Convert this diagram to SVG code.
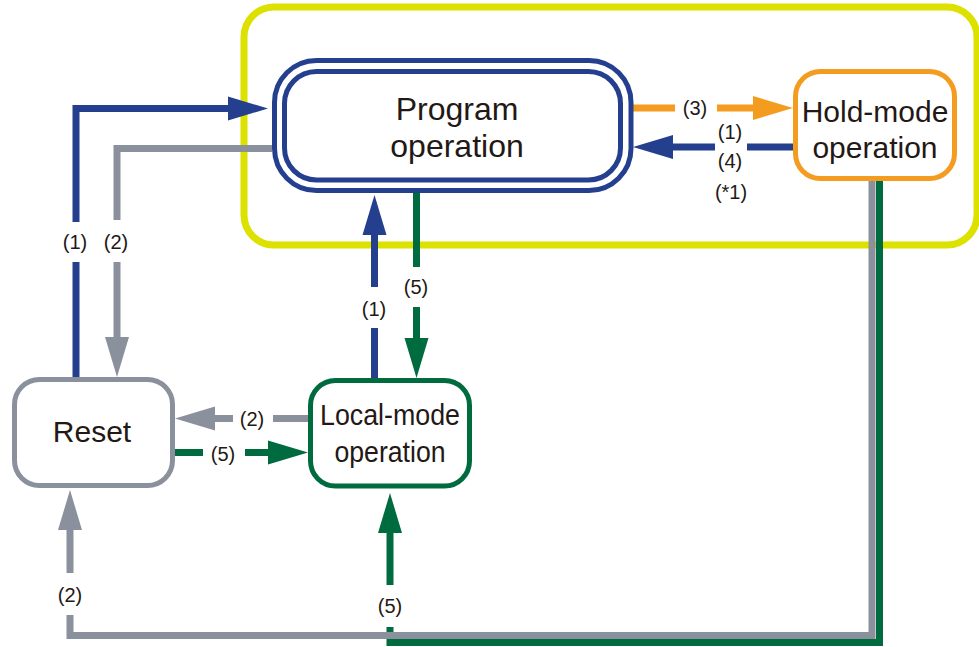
<svg xmlns="http://www.w3.org/2000/svg" width="979" height="647" viewBox="0 0 979 647">
<style>
  .node-text{font-family:"Liberation Sans",Arial,sans-serif;fill:#231815;text-anchor:middle}
  .lbl{font-family:"Liberation Sans",Arial,sans-serif;font-size:20px;fill:#231815;text-anchor:middle}
  .c{fill:none;stroke-width:7;stroke-linejoin:miter;stroke-linecap:butt}
  .blue{stroke:#253f8f}
  .gray{stroke:#8a909c}
  .green{stroke:#006b3f}
  .orange{stroke:#f39c1f}
</style>
<defs>
  <marker id="mBlue" markerUnits="userSpaceOnUse" markerWidth="40" markerHeight="24" refX="0" refY="12" orient="auto" overflow="visible"><path d="M0,0 L40,12 L0,24 Z" fill="#253f8f"/></marker>
  <marker id="mGray" markerUnits="userSpaceOnUse" markerWidth="40" markerHeight="24" refX="0" refY="12" orient="auto" overflow="visible"><path d="M0,0 L40,12 L0,24 Z" fill="#8a909c"/></marker>
  <marker id="mGreen" markerUnits="userSpaceOnUse" markerWidth="40" markerHeight="24" refX="0" refY="12" orient="auto" overflow="visible"><path d="M0,0 L40,12 L0,24 Z" fill="#006b3f"/></marker>
  <marker id="mOrange" markerUnits="userSpaceOnUse" markerWidth="40" markerHeight="24" refX="0" refY="12" orient="auto" overflow="visible"><path d="M0,0 L40,12 L0,24 Z" fill="#f39c1f"/></marker>
</defs>
<rect width="979" height="647" fill="#ffffff"/>
<g id="frame">
  <rect x="244" y="7" width="733" height="238" rx="30" ry="30" fill="none" stroke="#dce100" stroke-width="7"/>
</g>
<g id="connectors">
  <path class="c green" d="M879.5 181 V642.5 H390 V627"/>
  <path class="c green" d="M390 585 V533" marker-end="url(#mGreen)"/>
  <path class="c gray" d="M872 181 V635.5 H70 V615"/>
  <path class="c gray" d="M70 573 V530" marker-end="url(#mGray)"/>
  <path class="c blue" d="M76 380 V262"/>
  <path class="c blue" d="M76 222 V108.5 H228" marker-end="url(#mBlue)"/>
  <path class="c gray" d="M272 148.5 H117 V220"/>
  <path class="c gray" d="M117 262 V337" marker-end="url(#mGray)"/>
  <path class="c orange" d="M633 108 H675"/>
  <path class="c orange" d="M717 108 H753" marker-end="url(#mOrange)"/>
  <path class="c blue" d="M793 147 H747"/>
  <path class="c blue" d="M715 147 H673" marker-end="url(#mBlue)"/>
  <path class="c blue" d="M374.5 378 V328"/>
  <path class="c blue" d="M374.5 287 V235" marker-end="url(#mBlue)"/>
  <path class="c green" d="M416.5 193 V267"/>
  <path class="c green" d="M416.5 307 V338" marker-end="url(#mGreen)"/>
  <path class="c gray" d="M308 418.5 H273"/>
  <path class="c gray" d="M233 418.5 H215" marker-end="url(#mGray)"/>
  <path class="c green" d="M175 452.5 H203"/>
  <path class="c green" d="M245 452.5 H268" marker-end="url(#mGreen)"/>
  <text class="lbl" x="75" y="249">(1)</text>
  <text class="lbl" x="116" y="249">(2)</text>
  <text class="lbl" x="695" y="115">(3)</text>
  <text class="lbl" x="730" y="139">(1)</text>
  <text class="lbl" x="730" y="168">(4)</text>
  <text class="lbl" x="731" y="199">(*1)</text>
  <text class="lbl" x="374" y="316">(1)</text>
  <text class="lbl" x="416" y="294">(5)</text>
  <text class="lbl" x="252" y="426">(2)</text>
  <text class="lbl" x="223" y="461">(5)</text>
  <text class="lbl" x="70" y="602">(2)</text>
  <text class="lbl" x="390" y="613">(5)</text>
</g>
<g id="program">
  <rect x="274.5" y="60.5" width="356.5" height="130" rx="42" ry="42" fill="#ffffff" stroke="#253f8f" stroke-width="5"/>
  <rect x="284.5" y="71.5" width="336" height="108.5" rx="32" ry="32" fill="#ffffff" stroke="#253f8f" stroke-width="5"/>
  <text class="node-text" x="457" y="120" font-size="32">Program</text>
  <text class="node-text" x="457" y="157" font-size="32">operation</text>
</g>
<g id="hold">
  <rect x="795.5" y="71.5" width="159" height="107" rx="25" ry="25" fill="#ffffff" stroke="#f39c1f" stroke-width="5"/>
  <text class="node-text" x="875" y="122" font-size="30">Hold-mode</text>
  <text class="node-text" x="875" y="158" font-size="30">operation</text>
</g>
<g id="reset">
  <rect x="14.5" y="379.5" width="158" height="106" rx="25" ry="25" fill="#ffffff" stroke="#8a909c" stroke-width="5"/>
  <text class="node-text" x="92" y="442" font-size="30">Reset</text>
</g>
<g id="local">
  <rect x="310.5" y="380.5" width="159" height="105.5" rx="25" ry="25" fill="#ffffff" stroke="#006b3f" stroke-width="5"/>
  <text class="node-text" x="390" y="425" font-size="30" textLength="140" lengthAdjust="spacingAndGlyphs">Local-mode</text>
  <text class="node-text" x="390" y="462" font-size="30" textLength="111" lengthAdjust="spacingAndGlyphs">operation</text>
</g>
</svg>
